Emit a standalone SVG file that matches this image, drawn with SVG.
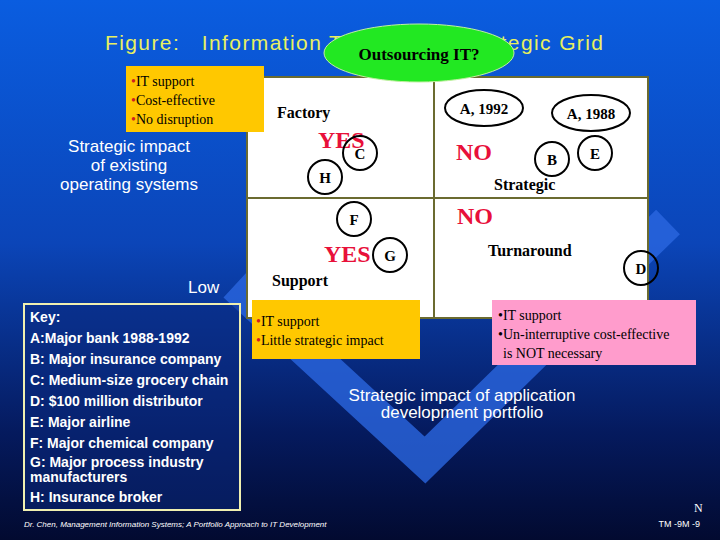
<svg xmlns="http://www.w3.org/2000/svg" width="720" height="540" viewBox="0 0 720 540">
<defs>
<linearGradient id="bg" x1="0" y1="0" x2="0" y2="1">
<stop offset="0" stop-color="#0a5de0"/><stop offset="0.45" stop-color="#0b45b8"/><stop offset="0.8" stop-color="#051a5e"/><stop offset="1" stop-color="#020a30"/>
</linearGradient>
</defs>
<style>
.ser{font-family:"Liberation Serif",serif}
.san{font-family:"Liberation Sans",Arial,sans-serif}
.lbl{font-family:"Liberation Serif",serif;font-weight:bold;font-size:16px;fill:#000}
.red{font-family:"Liberation Serif",serif;font-weight:bold;font-size:24px;fill:#e8103a}
.c{fill:none;stroke:#000;stroke-width:2}
.ct{font-family:"Liberation Serif",serif;font-weight:bold;font-size:15px;fill:#000;text-anchor:middle}
.key{font-family:"Liberation Sans",Arial,sans-serif;font-weight:bold;font-size:14px;fill:#fff}
.wt{font-family:"Liberation Sans",Arial,sans-serif;font-size:17px;fill:#fff;text-anchor:middle}
.bx{font-family:"Liberation Serif",serif;font-size:14px;fill:#000}
</style>
<rect width="720" height="540" fill="url(#bg)"/>
<polyline points="235,285 425,460 668,222" fill="none" stroke="#2a66e0" stroke-width="34" opacity="0.8"/>
<text x="105" y="50" class="san" font-size="21" fill="#e8f060" xml:space="preserve" textLength="498" lengthAdjust="spacing">Figure:   Information Technology Strategic Grid</text>
<g id="grid">
<rect x="247" y="77" width="401" height="241" fill="#fff" stroke="#6b6b30" stroke-width="2"/>
<line x1="434" y1="77" x2="434" y2="318" stroke="#6b6b30" stroke-width="2"/>
<line x1="247" y1="198" x2="648" y2="198" stroke="#6b6b30" stroke-width="2"/>
</g>
<g id="title-ellipse"><ellipse cx="419" cy="53" rx="95" ry="29" fill="#22e822" stroke="#c0f0a0"/>
<text x="419" y="60" class="ser" font-weight="bold" font-size="17" text-anchor="middle">Outsourcing IT?</text></g>
<g id="box-factory"><rect x="126" y="66" width="138" height="66" fill="#ffc800"/>
<text class="bx"><tspan x="131" y="86"><tspan fill="#d02020">•</tspan>IT support</tspan><tspan x="131" y="105"><tspan fill="#d02020">•</tspan>Cost-effective</tspan><tspan x="131" y="124"><tspan fill="#d02020">•</tspan>No disruption</tspan></text></g>
<text class="wt"><tspan x="129" y="152">Strategic impact</tspan><tspan x="129" y="171">of existing</tspan><tspan x="129" y="190">operating systems</tspan></text>
<text x="188" y="293" class="san" font-size="17" fill="#fff">Low</text>
<text x="277" y="118" class="lbl">Factory</text>
<text x="318" y="148" class="red">YES</text>
<g id="C"><circle cx="360" cy="153" r="17" class="c"/><text x="360" y="159" class="ct">C</text></g>
<g id="H"><circle cx="325" cy="177" r="17" class="c"/><text x="325" y="183" class="ct">H</text></g>
<g id="A1992"><ellipse cx="484" cy="108" rx="39" ry="18" class="c"/><text x="484" y="114" class="ct">A, 1992</text></g>
<g id="A1988"><ellipse cx="591" cy="113" rx="39" ry="18" class="c"/><text x="591" y="119" class="ct">A, 1988</text></g>
<text x="456" y="160" class="red">NO</text>
<g id="B"><circle cx="552" cy="159" r="17" class="c"/><text x="552" y="165" class="ct">B</text></g>
<g id="E"><circle cx="595" cy="153" r="17" class="c"/><text x="595" y="159" class="ct">E</text></g>
<text x="494" y="190" class="lbl">Strategic</text>
<g id="F"><circle cx="354" cy="219" r="17" class="c"/><text x="354" y="225" class="ct">F</text></g>
<text x="324" y="262" class="red">YES</text>
<g id="G"><circle cx="390" cy="255" r="17" class="c"/><text x="390" y="261" class="ct">G</text></g>
<text x="272" y="286" class="lbl">Support</text>
<text x="457" y="224" class="red">NO</text>
<text x="488" y="256" class="lbl">Turnaround</text>
<g id="D"><circle cx="641" cy="268" r="17" class="c"/><text x="641" y="274" class="ct">D</text></g>
<g id="box-support"><rect x="252" y="300" width="168" height="59" fill="#ffc800"/>
<text class="bx"><tspan x="256" y="326"><tspan fill="#d02020">•</tspan>IT support</tspan><tspan x="256" y="345"><tspan fill="#d02020">•</tspan>Little strategic impact</tspan></text></g>
<g id="box-turn"><rect x="492" y="300" width="204" height="65" fill="#ff9ccc"/>
<text class="bx"><tspan x="498" y="320">•IT support</tspan><tspan x="498" y="339">•Un-interruptive cost-effective</tspan><tspan x="503" y="358">is NOT necessary</tspan></text></g>
<g id="key"><rect x="24" y="304" width="216" height="206" fill="#0a2a80" fill-opacity="0.5" stroke="#f0f0b0" stroke-width="2"/>
<text class="key"><tspan x="30" y="322">Key:</tspan><tspan x="30" y="343">A:Major bank 1988-1992</tspan><tspan x="30" y="364">B: Major insurance company</tspan><tspan x="30" y="385">C: Medium-size grocery chain</tspan><tspan x="30" y="406">D: $100 million distributor</tspan><tspan x="30" y="427">E: Major airline</tspan><tspan x="30" y="448">F: Major chemical company</tspan><tspan x="30" y="467">G: Major process industry</tspan><tspan x="30" y="482">manufacturers</tspan><tspan x="30" y="502">H: Insurance broker</tspan></text></g>
<text class="wt" font-size="16"><tspan x="462" y="401">Strategic impact of application</tspan><tspan x="462" y="418">development portfolio</tspan></text>
<text x="694" y="512" class="ser" font-size="12" fill="#fff">N</text>
<text x="24" y="527" class="san" font-size="8" font-style="italic" fill="#fff">Dr. Chen, Management Information Systems; A Portfolio Approach to IT Development</text>
<text x="700" y="527" class="san" font-size="9" fill="#fff" text-anchor="end">TM -9M -9</text>
</svg>
